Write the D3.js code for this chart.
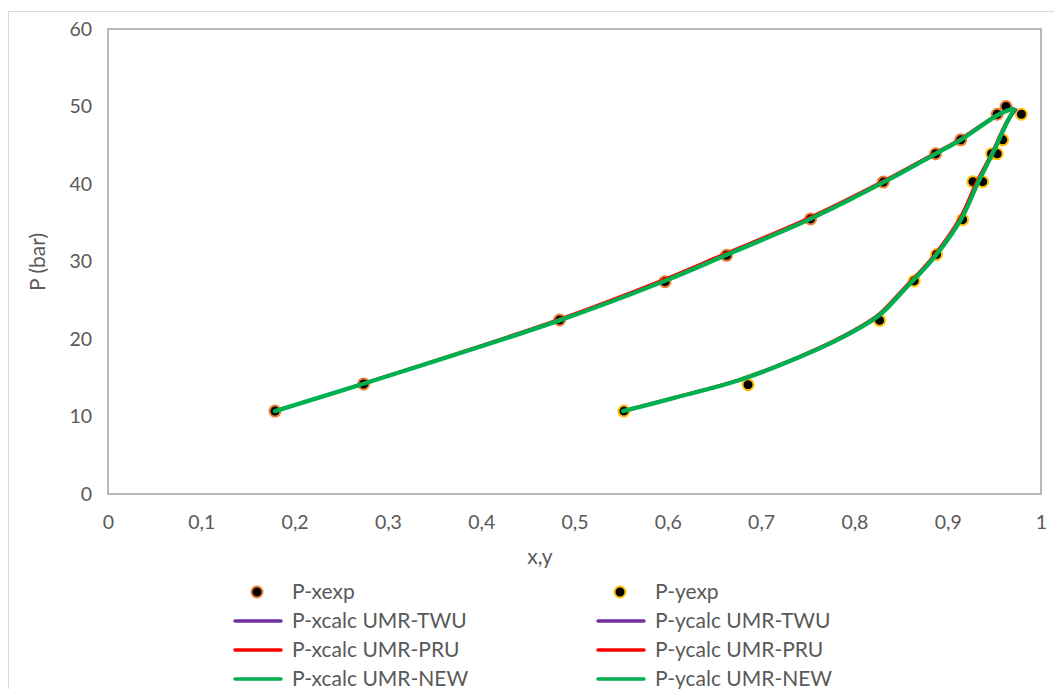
<!DOCTYPE html>
<html>
<head>
<meta charset="utf-8">
<script src="https://cdn.jsdelivr.net/npm/d3@7"></script>
<style>
  html, body { margin: 0; padding: 0; background: #fff; }
  svg { display: block; }
  text { font-family: Lato, "Open Sans", sans-serif; fill: #595959; }
</style>
</head>
<body>
<svg id="chart" width="1054" height="689"></svg>
<script>
// Experimental points: liquid (x) and vapour (y) compositions with pressure in bar
const xExpComp = [0.179, 0.274, 0.484, 0.597, 0.663, 0.753, 0.831, 0.887, 0.914, 0.953, 0.9625];
const xExpP    = [10.7, 14.2, 22.45, 27.4, 30.8, 35.5, 40.25, 43.9, 45.7, 49.0, 50.0];
const yExpComp = [0.553, 0.686, 0.827, 0.864, 0.888, 0.916, 0.927, 0.9375, 0.947, 0.953, 0.959, 0.979];
const yExpP    = [10.7, 14.1, 22.4, 27.5, 30.9, 35.4, 40.3, 40.3, 43.9, 43.9, 45.7, 49.0];

// Calculated bubble curves (P vs x)
const xCalcP      = [10.7, 14.2, 22.4, 27.5, 30.8, 35.5, 40.2, 43.9, 45.7, 49.0, 49.7];
const xCalcTWU    = [0.179, 0.273, 0.483, 0.596, 0.661, 0.752, 0.830, 0.886, 0.913, 0.955, 0.971];
const xCalcPRU    = [0.179, 0.272, 0.480, 0.592, 0.657, 0.749, 0.828, 0.885, 0.912, 0.954, 0.969];
const xCalcNEW    = [0.179, 0.273, 0.484, 0.597, 0.662, 0.753, 0.831, 0.887, 0.914, 0.955, 0.969];

// Calculated dew curves (P vs y)
const yCalcP      = [10.7, 12.4, 14.7, 17.7, 20.2, 23.1, 26.3, 30.6, 35.6, 40.3, 44.4, 47.8, 49.6];
const yCalcTWU    = [0.552, 0.606, 0.676, 0.741, 0.786, 0.826, 0.852, 0.885, 0.914, 0.932, 0.949, 0.963, 0.973];
const yCalcPRU    = [0.552, 0.605, 0.675, 0.740, 0.785, 0.825, 0.851, 0.884, 0.913, 0.931, 0.949, 0.962, 0.971];
const yCalcNEW    = [0.552, 0.607, 0.677, 0.742, 0.787, 0.827, 0.853, 0.886, 0.915, 0.933, 0.950, 0.963, 0.971];

const xTicks = [0, 0.1, 0.2, 0.3, 0.4, 0.5, 0.6, 0.7, 0.8, 0.9, 1];
const yTicks = [0, 10, 20, 30, 40, 50, 60];

const colTWU = "#7030A0", colPRU = "#FF0000", colNEW = "#00B050";

const svg = d3.select("#chart");

// chart frame
svg.append("rect")
  .attr("x", 8.5).attr("y", 11.5).attr("width", 1100).attr("height", 700)
  .attr("fill", "#fff").attr("stroke", "#d9d9d9").attr("stroke-width", 1);

const x = d3.scaleLinear().domain([0, 1]).range([108, 1041]);
const y = d3.scaleLinear().domain([0, 60]).range([494, 29]);

const fmt = d => String(d).replace(".", ",");

// axes
const gx = svg.append("g").attr("transform", "translate(0,494)")
  .call(d3.axisBottom(x).tickValues(xTicks).tickFormat(fmt).tickSize(0).tickPadding(21));
const gy = svg.append("g").attr("transform", "translate(108,0)")
  .call(d3.axisLeft(y).tickValues(yTicks).tickFormat(fmt).tickSize(0).tickPadding(16));
[gx, gy].forEach(g => {
  g.select(".domain").remove();
  g.selectAll("text").style("font-family", "Lato, 'Open Sans', sans-serif")
    .style("font-size", "19.5px").attr("fill", "#595959");
});

// plot area border
svg.append("rect")
  .attr("x", x(0)).attr("y", y(60)).attr("width", x(1) - x(0)).attr("height", y(0) - y(60))
  .attr("fill", "none").attr("stroke", "#a6a6a6").attr("stroke-width", 1.6);

// axis titles
svg.append("text").attr("x", 540).attr("y", 564).attr("text-anchor", "middle")
  .style("font-size", "21px").text("x,y");
svg.append("text").attr("transform", "translate(45,262) rotate(-90)").attr("text-anchor", "middle")
  .style("font-size", "21px").text("P (bar)");

const zip = (cs, ps) => cs.map((c, i) => ({ c, p: ps[i] }));

// markers
const markerSets = [
  { data: zip(xExpComp, xExpP), stroke: "#ED7D31" },
  { data: zip(yExpComp, yExpP), stroke: "#FFC000" }
];
markerSets.forEach(s => {
  svg.append("g").selectAll("circle").data(s.data).join("circle")
    .attr("cx", d => x(d.c)).attr("cy", d => y(d.p)).attr("r", 5.5)
    .attr("fill", "#000").attr("stroke", s.stroke).attr("stroke-width", 2);
});

// calculated curves
const line = d3.line().x(d => x(d.c)).y(d => y(d.p)).curve(d3.curveCatmullRom.alpha(0.5));
const curves = [
  { data: zip(xCalcTWU, xCalcP), color: colTWU, w: 3 },
  { data: zip(yCalcTWU, yCalcP), color: colTWU, w: 3 },
  { data: zip(xCalcPRU, xCalcP), color: colPRU, w: 3 },
  { data: zip(yCalcPRU, yCalcP), color: colPRU, w: 3 },
  { data: zip(xCalcNEW, xCalcP), color: colNEW, w: 4.3 },
  { data: zip(yCalcNEW, yCalcP), color: colNEW, w: 4.3 }
];
curves.forEach(c => {
  svg.append("path").datum(c.data).attr("d", line)
    .attr("fill", "none").attr("stroke", c.color).attr("stroke-width", c.w)
    .attr("stroke-linecap", "round").attr("stroke-linejoin", "round");
});

// legend
const legendItems = [
  { label: "P-xexp", type: "dot", color: "#ED7D31", col: 0, row: 0 },
  { label: "P-yexp", type: "dot", color: "#FFC000", col: 1, row: 0 },
  { label: "P-xcalc UMR-TWU", type: "line", color: colTWU, col: 0, row: 1 },
  { label: "P-ycalc UMR-TWU", type: "line", color: colTWU, col: 1, row: 1 },
  { label: "P-xcalc UMR-PRU", type: "line", color: colPRU, col: 0, row: 2 },
  { label: "P-ycalc UMR-PRU", type: "line", color: colPRU, col: 1, row: 2 },
  { label: "P-xcalc UMR-NEW", type: "line", color: colNEW, col: 0, row: 3 },
  { label: "P-ycalc UMR-NEW", type: "line", color: colNEW, col: 1, row: 3 }
];
const colX = [235, 598], rowY = [592, 621, 650, 679];
legendItems.forEach(it => {
  const lx = colX[it.col], ly = rowY[it.row];
  if (it.type === "dot") {
    svg.append("circle").attr("cx", lx + 22).attr("cy", ly).attr("r", 5.5)
      .attr("fill", "#000").attr("stroke", it.color).attr("stroke-width", 2);
  } else {
    svg.append("line").attr("x1", lx).attr("x2", lx + 46).attr("y1", ly).attr("y2", ly)
      .attr("stroke", it.color).attr("stroke-width", 3.5).attr("stroke-linecap", "round");
  }
  svg.append("text").attr("x", lx + 57).attr("y", ly).attr("dy", "0.35em")
    .style("font-size", "21px").text(it.label);
});
</script>
</body>
</html>
